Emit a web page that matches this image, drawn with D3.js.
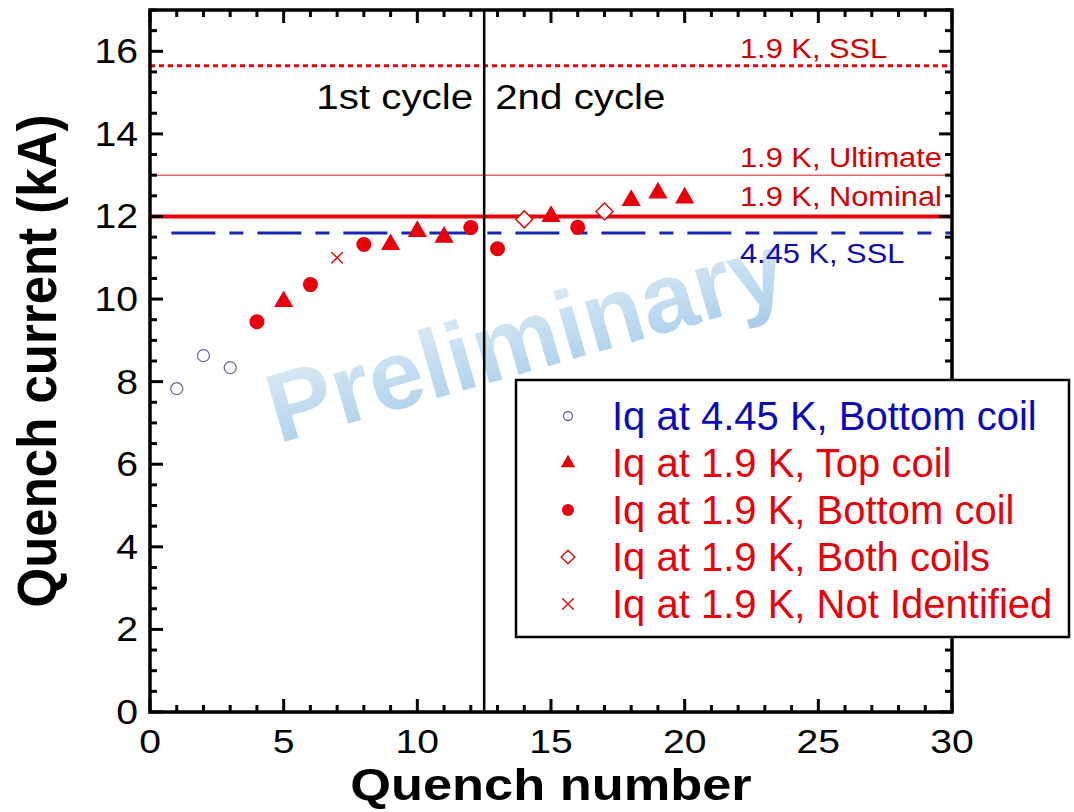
<!DOCTYPE html>
<html>
<head>
<meta charset="utf-8">
<script src="https://cdn.jsdelivr.net/npm/d3@7"></script>
<style>
  body { margin: 0; background: #fff; }
  svg { display: block; font-family: "Liberation Sans", Arial, sans-serif; }
</style>
</head>
<body>
<div id="chart"></div>
<script>
// quench number / quench current (kA), one array per series
const bottom445 = [[1, 7.83], [2, 8.63], [3, 8.34]];
const top19 = [[5, 9.94], [9, 11.32], [10, 11.64], [11, 11.5], [15, 12.0], [18, 12.39], [19, 12.57], [20, 12.45]];
const bottom19 = [[4, 9.45], [6, 10.35], [8, 11.32], [12, 11.73], [13, 11.22], [16, 11.74]];
const both19 = [[14, 11.93], [17, 12.12]];
const notId19 = [[7, 11.0]];

const refLines = [
  { name: '1.9 K, SSL', value: 15.65, kind: 'dotted' },
  { name: '1.9 K, Ultimate', value: 13.0, kind: 'thin' },
  { name: '1.9 K, Nominal', value: 12.0, kind: 'thick' },
  { name: '4.45 K, SSL', value: 11.6, kind: 'dashdot' }
];
const cycleSplit = 12.5;
const xTicks = [0, 5, 10, 15, 20, 25, 30];
const yTicks = [0, 2, 4, 6, 8, 10, 12, 14, 16];
const legendLabels = [
  'Iq at 4.45 K, Bottom coil',
  'Iq at 1.9 K, Top coil',
  'Iq at 1.9 K, Bottom coil',
  'Iq at 1.9 K, Both coils',
  'Iq at 1.9 K, Not Identified'
];

const d3 = window.d3;
const width = 1074, height = 812, margin = { t: 10, r: 122, b: 100, l: 150 };
const RED = '#e8000b', BLUE = '#0a0ab8', GREYBLUE = '#6a6a9a';

const svg = d3.select('#chart').append('svg').attr('width', width).attr('height', height);

const x = d3.scaleLinear().domain([0, 30]).range([margin.l, width - margin.r]);
const y = d3.scaleLinear().domain([0, 17]).range([height - margin.b, margin.t]);

// text helper: the original figure is stretched a bit horizontally
function stext(parent, tx, ty, str, size, sx = 1, anchor = 'start') {
  return parent.append('text')
    .attr('transform', `translate(${tx},${ty}) scale(${sx},1)`)
    .attr('text-anchor', anchor).attr('font-size', size).text(str);
}

// watermark
const defs = svg.append('defs');
const grad = defs.append('linearGradient').attr('id', 'wm').attr('x1', 0).attr('y1', 0).attr('x2', 0).attr('y2', 1);
grad.append('stop').attr('offset', '0%').attr('stop-color', '#dbeaf6');
grad.append('stop').attr('offset', '100%').attr('stop-color', '#92c2e6');
svg.append('text')
  .attr('transform', 'translate(528,345) rotate(-16)')
  .attr('text-anchor', 'middle').attr('dominant-baseline', 'middle')
  .attr('font-size', 98).attr('font-weight', 'bold')
  .attr('fill', 'url(#wm)').attr('opacity', 0.8)
  .text('Preliminary');

// reference lines
const lineStyle = {
  dotted: { w: 3, dash: '5,4', color: RED },
  thin: { w: 1, dash: null, color: '#d81a1a' },
  thick: { w: 4, dash: null, color: RED },
  dashdot: { w: 3, dash: '44,14,14,14', color: '#1428b8' }
};
refLines.forEach(r => {
  const s = lineStyle[r.kind];
  svg.append('line')
    .attr('x1', r.kind === 'dashdot' ? x(0.8) : x(0)).attr('x2', x(30))
    .attr('y1', y(r.value)).attr('y2', y(r.value))
    .attr('stroke', s.color).attr('stroke-width', s.w)
    .attr('stroke-dasharray', s.dash);
});

const labelDy = [-8, -8, -10, 30];
refLines.forEach((r, i) => {
  stext(svg, 740, y(r.value) + labelDy[i], r.name, 28, 1.1)
    .attr('fill', r.kind === 'dashdot' ? BLUE : '#d40000');
});

// cycle split
svg.append('line').attr('x1', x(cycleSplit)).attr('x2', x(cycleSplit))
  .attr('y1', y(0)).attr('y2', y(17)).attr('stroke', '#000').attr('stroke-width', 2.5);
stext(svg, x(cycleSplit) - 11, 109, '1st cycle', 36, 1.12, 'end');
stext(svg, x(cycleSplit) + 11, 109, '2nd cycle', 36, 1.12);

// markers
const diamond = s => `M0,${-s}L${s},0L0,${s}L${-s},0Z`;
const markers = [
  (g, cx, cy, k = 1) => g.append('circle').attr('cx', cx).attr('cy', cy).attr('r', 6 * k)
    .attr('fill', '#fff').attr('stroke', GREYBLUE).attr('stroke-width', 1.3),
  (g, cx, cy, k = 1) => g.append('path').attr('d', d3.symbol().type(d3.symbolTriangle).size(160 * k * k)())
    .attr('transform', `translate(${cx},${cy})`).attr('fill', RED),
  (g, cx, cy, k = 1) => g.append('circle').attr('cx', cx).attr('cy', cy).attr('r', 7.5 * k).attr('fill', RED),
  (g, cx, cy, k = 1) => g.append('path').attr('d', diamond(8.5 * k))
    .attr('transform', `translate(${cx},${cy})`)
    .attr('fill', '#fff').attr('stroke', '#d41010').attr('stroke-width', 1.5),
  (g, cx, cy, k = 1) => g.append('path').attr('d', d3.symbol().type(d3.symbolX).size(90 * k * k)())
    .attr('transform', `translate(${cx},${cy})`).attr('fill', 'none').attr('stroke', '#d41010').attr('stroke-width', 1.5)
];
[bottom445, top19, bottom19, both19, notId19].forEach((data, i) => {
  const g = svg.append('g');
  data.forEach(d => markers[i](g, x(d[0]), y(d[1])));
});

// axes: major + minor ticks inward on all four sides
const g = svg.append('g').attr('stroke', '#000').attr('stroke-width', 3);
d3.range(0, 31, 1).forEach(v => {
  const len = v % 5 === 0 ? 13 : 7;
  g.append('line').attr('x1', x(v)).attr('x2', x(v)).attr('y1', y(0)).attr('y2', y(0) - len);
  g.append('line').attr('x1', x(v)).attr('x2', x(v)).attr('y1', y(17)).attr('y2', y(17) + len);
});
d3.range(0, 17.01, 0.5).forEach(v => {
  const len = v % 2 === 0 ? 13 : 7;
  g.append('line').attr('y1', y(v)).attr('y2', y(v)).attr('x1', x(0)).attr('x2', x(0) + len);
  g.append('line').attr('y1', y(v)).attr('y2', y(v)).attr('x1', x(30)).attr('x2', x(30) - len);
});
svg.append('rect').attr('x', x(0)).attr('y', y(17)).attr('width', x(30) - x(0)).attr('height', y(0) - y(17))
  .attr('fill', 'none').attr('stroke', '#000').attr('stroke-width', 3.5);

const xl = svg.append('g');
xTicks.forEach(d => stext(xl, x(d), y(0) + 41, d, 34, 1.15, 'middle'));
const yl = svg.append('g');
yTicks.forEach(d => stext(yl, x(0) - 12, y(d) + 12, d, 35, 1.12, 'end'));

stext(svg, (x(0) + x(30)) / 2, 800, 'Quench number', 44, 1.19, 'middle').attr('font-weight', 'bold');
svg.append('text').attr('transform', `translate(56,${(y(0) + y(17)) / 2}) rotate(-90) scale(1,1.1)`)
  .attr('text-anchor', 'middle').attr('font-size', 51).attr('font-weight', 'bold').text('Quench current (kA)');

// legend
const lg = svg.append('g');
lg.append('rect').attr('x', 516).attr('y', 380).attr('width', 553).attr('height', 257)
  .attr('fill', '#fff').attr('stroke', '#000').attr('stroke-width', 2.5);
const legendScale = [0.75, 0.75, 0.8, 0.8, 1];
legendLabels.forEach((t, i) => {
  const cy = 416 + i * 47;
  markers[i](lg, 568, cy, legendScale[i]);
  stext(lg, 612, cy + 14, t, 40, 1).attr('fill', i === 0 ? BLUE : RED);
});
</script>
</body>
</html>
